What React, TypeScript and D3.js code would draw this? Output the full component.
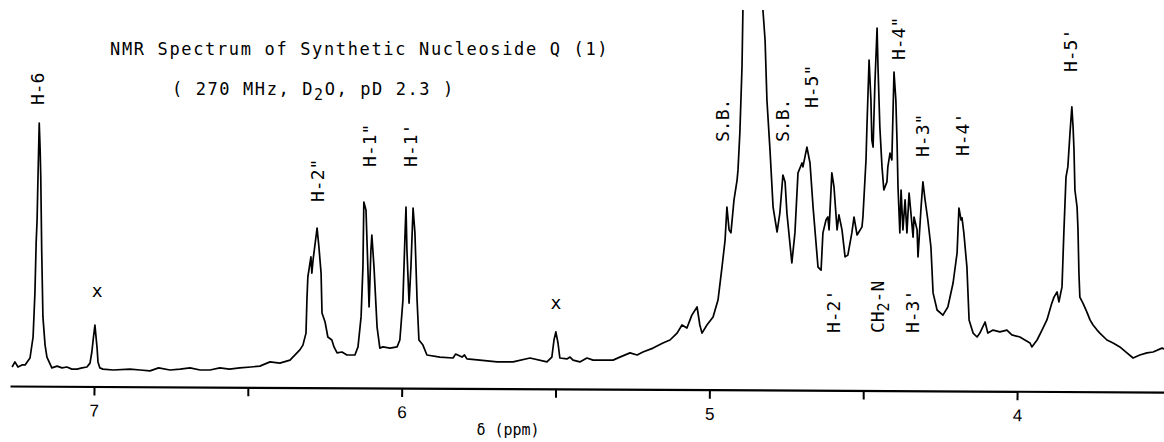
import React, { useEffect, useRef } from "react";
import * as d3 from "d3";

// ---- data: chemical shift (ppm) vs relative intensity ----
const aromaticTrace: [number, number][] = [
  [7.266, 1.0], [7.257, 2.7], [7.247, 1.0], [7.234, 1.7], [7.224, 1.7], [7.208, 4.0],
  [7.198, 11.0], [7.192, 25.7], [7.188, 42.3], [7.185, 50.0], [7.182, 64.3], [7.178, 82.3],
  [7.175, 73.3], [7.173, 64.3], [7.170, 40.0], [7.166, 17.7], [7.159, 8.3], [7.153, 4.3],
  [7.137, 0.7], [7.120, 1.3], [7.104, 0.7], [7.088, 1.0], [7.072, 0.3], [7.055, 0.3],
  [7.039, 0.7], [7.023, 1.0], [7.013, 2.3], [7.007, 6.0], [7.002, 10.7], [6.997, 15.0],
  [6.994, 11.7], [6.990, 7.3], [6.987, 2.7], [6.981, 0.7], [6.971, 0.3], [6.938, 0.0],
  [6.883, 0.3], [6.850, 0.0], [6.818, -0.3], [6.790, 0.7], [6.753, 0.0], [6.720, 0.3],
  [6.688, 0.7], [6.655, 0.0], [6.623, 0.0], [6.591, 0.7], [6.560, 0.3], [6.526, 0.7],
  [6.490, 1.0], [6.461, 1.3], [6.428, 2.7], [6.396, 2.3], [6.363, 3.3], [6.331, 6.7],
];

const anomericTrace: [number, number][] = [
  [6.321, 8.3], [6.311, 12.3], [6.308, 23.3], [6.305, 31.0], [6.295, 37.7], [6.292, 32.3],
  [6.288, 36.7], [6.275, 47.3], [6.269, 41.0], [6.262, 32.3], [6.259, 19.0], [6.249, 16.0],
  [6.240, 11.0], [6.227, 10.0], [6.220, 7.7], [6.210, 5.7], [6.194, 6.0], [6.178, 5.0],
  [6.152, 5.0], [6.142, 7.7], [6.132, 17.7], [6.126, 34.3], [6.123, 56.0], [6.116, 53.3],
  [6.110, 34.3], [6.106, 21.0], [6.100, 40.0], [6.097, 45.0], [6.090, 34.3], [6.080, 14.3],
  [6.071, 7.3], [6.061, 7.7], [6.038, 7.3], [6.015, 7.7], [6.006, 10.0], [5.996, 23.3],
  [5.989, 45.7], [5.986, 54.3], [5.983, 40.0], [5.976, 22.3], [5.970, 34.3], [5.963, 54.0],
  [5.957, 45.7], [5.950, 23.3], [5.944, 10.0], [5.931, 8.3], [5.918, 5.0], [5.876, 4.3],
  [5.833, 4.0], [5.825, 5.3], [5.804, 4.3], [5.796, 5.0], [5.788, 3.7], [5.746, 3.3],
  [5.690, 2.7], [5.638, 2.7], [5.583, 4.0], [5.528, 2.7], [5.512, 4.3], [5.505, 10.0],
  [5.499, 12.7], [5.492, 9.0], [5.486, 4.0], [5.463, 3.7], [5.453, 4.3], [5.443, 3.3],
  [5.421, 2.7], [5.398, 4.0], [5.378, 3.3],
];

const hdoTrace: [number, number][] = [
  [5.313, 3.3], [5.291, 4.3], [5.258, 5.7], [5.235, 5.0], [5.216, 6.0], [5.183, 7.3],
  [5.151, 9.0], [5.128, 10.0], [5.105, 12.3], [5.089, 15.0], [5.073, 14.0], [5.057, 18.3],
  [5.040, 21.0], [5.031, 15.0], [5.024, 12.3], [5.008, 15.0], [4.988, 17.7], [4.972, 23.3],
  [4.959, 34.3], [4.949, 43.3], [4.943, 54.3], [4.936, 46.7], [4.930, 45.7], [4.920, 56.7],
  [4.910, 63.3], [4.907, 66.7], [4.901, 79.0], [4.894, 101.0], [4.891, 120.0], [4.888, 190.0],
  [4.858, 300.0],
  [4.829, 190.0], [4.826, 120.0], [4.819, 110.0], [4.813, 90.0], [4.803, 73.3], [4.793, 54.3],
  [4.780, 46.0], [4.771, 52.3], [4.761, 65.0],
];

const riboseTrace: [number, number][] = [
  [4.754, 62.7], [4.748, 52.3], [4.732, 35.7], [4.722, 45.7], [4.712, 65.7], [4.699, 69.0],
  [4.696, 67.7], [4.683, 74.3], [4.673, 69.0], [4.663, 54.3], [4.647, 34.3], [4.637, 33.3],
  [4.631, 45.7], [4.621, 50.0], [4.615, 51.0], [4.611, 46.7], [4.602, 65.7], [4.595, 61.0],
  [4.585, 46.7], [4.579, 51.7], [4.569, 46.7], [4.559, 37.7], [4.550, 38.3], [4.537, 45.7],
  [4.530, 51.0], [4.520, 45.0], [4.504, 47.7], [4.501, 51.0], [4.491, 70.0], [4.488, 81.0],
  [4.481, 103.3], [4.475, 90.0], [4.472, 76.7], [4.468, 74.3], [4.462, 95.7], [4.455, 114.0],
  [4.452, 101.0], [4.446, 81.0], [4.439, 67.7], [4.433, 60.0], [4.423, 62.7], [4.420, 67.7],
  [4.413, 72.3], [4.407, 70.0], [4.400, 99.3], [4.394, 90.0], [4.390, 75.7], [4.387, 61.0],
  [4.381, 45.7], [4.377, 60.0], [4.371, 46.7], [4.364, 56.7], [4.358, 45.7], [4.351, 59.0],
  [4.345, 52.3], [4.338, 44.3], [4.335, 51.0], [4.325, 46.7], [4.322, 37.7], [4.312, 54.3],
  [4.306, 62.7], [4.299, 56.7], [4.290, 50.0], [4.280, 41.0], [4.273, 25.7], [4.260, 20.0],
  [4.241, 18.3], [4.225, 21.0], [4.208, 29.0], [4.195, 39.0], [4.189, 54.0], [4.182, 50.0],
  [4.179, 50.7], [4.173, 45.7], [4.163, 34.3], [4.156, 16.7], [4.143, 12.3],
];

const h5Trace: [number, number][] = [
  [4.130, 11.0], [4.121, 12.3], [4.104, 16.0], [4.095, 12.3], [4.078, 13.3], [4.056, 12.7],
  [4.033, 13.3], [4.017, 11.7], [3.991, 11.0], [3.958, 9.0], [3.952, 7.7], [3.935, 10.0],
  [3.919, 13.3], [3.903, 16.7], [3.887, 22.3], [3.880, 24.3], [3.870, 26.0], [3.864, 22.7],
  [3.854, 27.7], [3.848, 45.7], [3.841, 64.3], [3.835, 67.7], [3.828, 79.0], [3.822, 87.7],
  [3.818, 81.0], [3.815, 73.3], [3.812, 60.0], [3.805, 54.3], [3.802, 46.7], [3.799, 32.3],
  [3.796, 24.3], [3.786, 22.3], [3.773, 19.3], [3.763, 16.7], [3.753, 15.0], [3.740, 13.3],
  [3.731, 12.3], [3.708, 10.0], [3.688, 9.0], [3.666, 7.7], [3.643, 5.7], [3.623, 4.0],
  [3.601, 5.0], [3.578, 5.7], [3.558, 6.0], [3.529, 7.3], [3.522, 7.0],
];

const tickValues = [7, 6.5, 6, 5.5, 5, 4.5, 4];
const tickLabels = ["7", "", "6", "", "5", "", "4"];

const peakLabels = [
  { text: "H-6", ppm: 7.182, level: 88.3 },
  { text: "H-2\"", ppm: 6.275, level: 56.0 },
  { text: "H-1\"", ppm: 6.106, level: 67.7 },
  { text: "H-1'", ppm: 5.970, level: 67.7 },
  { text: "S.B.", ppm: 4.956, level: 76.0 },
  { text: "S.B.", ppm: 4.761, level: 76.0 },
  { text: "H-5\"", ppm: 4.667, level: 87.3 },
  { text: "H-2'", ppm: 4.598, level: 12.3 },
  { text: "H-3'", ppm: 4.341, level: 12.3 },
  { text: "H-4\"", ppm: 4.384, level: 103.3 },
  { text: "H-3\"", ppm: 4.306, level: 71.0 },
  { text: "H-4'", ppm: 4.176, level: 71.3 },
  { text: "H-5'", ppm: 3.825, level: 99.3 },
];
const methyleneLabel = { parts: ["CH", "2", "-N"], ppm: 4.455, level: 12.3 };
const impurityMarks = [
  { ppm: 6.990, level: 26.3 },
  { ppm: 5.499, level: 22.3 },
];

const titleText = "NMR Spectrum of Synthetic Nucleoside Q (1)";
const subtitleParts = ["( 270 MHz, D", "2", "O, pD 2.3 )"];
const axisTitle = "\u03b4 (ppm)";

// ---- layout ----
const W = 1164;
const H = 442;
const FONT = "'DejaVu Sans Mono', monospace";

export default function App() {
  const axisRef = useRef<SVGGElement>(null);

  const spectrum = [...aromaticTrace, ...anomericTrace, ...hdoTrace, ...riboseTrace, ...h5Trace];
  const x = d3.scaleLinear().domain([7.273, 3.5225]).range([10, 1164]);
  const y = d3.scaleLinear().domain([0, 120]).range([370, 10]);
  const line = d3
    .line<[number, number]>()
    .x((d) => x(d[0]))
    .y((d) => y(d[1]));

  useEffect(() => {
    if (!axisRef.current) return;
    const g = d3.select(axisRef.current);
    g.selectAll("*").remove();
    const axis = d3
      .axisBottom(x)
      .tickValues(tickValues)
      .tickSizeInner(9)
      .tickSizeOuter(0)
      .tickPadding(9)
      .tickFormat((_d, i) => tickLabels[i]);
    g.call(axis as any);
    g.select(".domain").attr("stroke", "#000").attr("stroke-width", 2.2);
    g.selectAll(".tick line").attr("stroke", "#000").attr("stroke-width", 2);
    g.selectAll(".tick text")
      .attr("fill", "#000")
      .attr("font-family", "'Liberation Sans', Arial, sans-serif")
      .attr("font-size", 17);
  }, []);

  return (
    <svg
      width={W}
      height={H}
      viewBox={`0 0 ${W} ${H}`}
      style={{ position: "absolute", left: 0, top: 0, background: "#fff" }}
    >
      <defs>
        <clipPath id="paper">
          <rect x={0} y={10} width={W} height={H - 10} />
        </clipPath>
      </defs>
      <rect x={0} y={0} width={W} height={H} fill="#fff" />

      <text x={110} y={55} fontFamily={FONT} fontSize={17} letterSpacing={1.65} fill="#000">
        {titleText}
      </text>
      <text x={172} y={95} fontFamily={FONT} fontSize={17} letterSpacing={1.6} fill="#000">
        {subtitleParts[0]}
        <tspan dy={5} fontSize={15}>{subtitleParts[1]}</tspan>
        <tspan dy={-5}>{subtitleParts[2]}</tspan>
      </text>

      <path
        d={line(spectrum) || ""}
        fill="none"
        stroke="#000"
        strokeWidth={1.7}
        strokeLinejoin="round"
        clipPath="url(#paper)"
      />

      {peakLabels.map((l, i) => (
        <text
          key={i}
          transform={`translate(${x(l.ppm)},${y(l.level)}) rotate(-90)`}
          dy="0.36em"
          fontFamily={FONT}
          fontSize={18}
          fill="#000"
        >
          {l.text}
        </text>
      ))}
      <text
        transform={`translate(${x(methyleneLabel.ppm)},${y(methyleneLabel.level)}) rotate(-90)`}
        dy="0.36em"
        fontFamily={FONT}
        fontSize={18}
        fill="#000"
      >
        {methyleneLabel.parts[0]}
        <tspan dy={5} fontSize={15}>{methyleneLabel.parts[1]}</tspan>
        <tspan dy={-5}>{methyleneLabel.parts[2]}</tspan>
      </text>

      {impurityMarks.map((m, i) => (
        <text
          key={i}
          x={x(m.ppm)}
          y={y(m.level)}
          dy="0.3em"
          textAnchor="middle"
          fontFamily={FONT}
          fontSize={18}
          fill="#000"
        >
          x
        </text>
      ))}

      <g ref={axisRef} transform="translate(0,386) rotate(0.3 10 0)" />

      <text x={508} y={435} textAnchor="middle" fontFamily={FONT} fontSize={15} fill="#000">
        {axisTitle}
      </text>
    </svg>
  );
}
